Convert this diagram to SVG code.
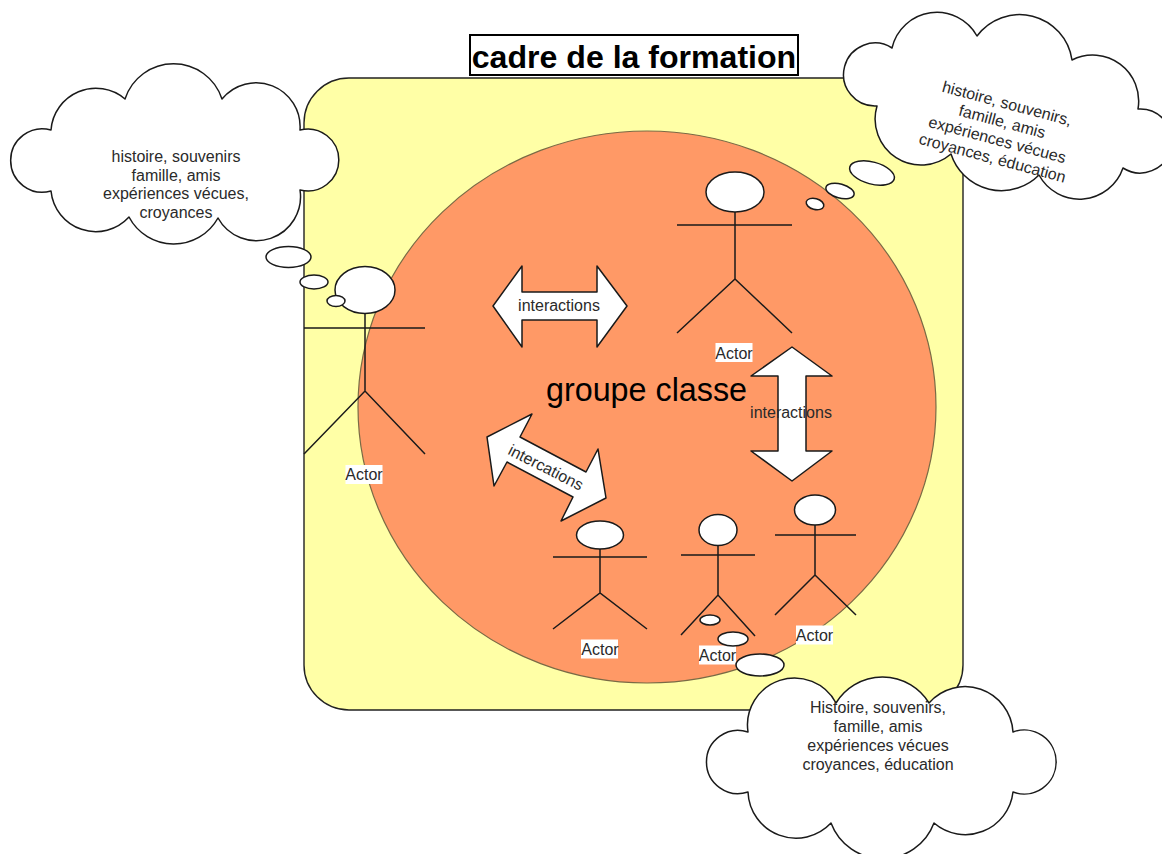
<svg xmlns="http://www.w3.org/2000/svg" width="1162" height="854" viewBox="0 0 1162 854">
<style>
text{font-family:"Liberation Sans",Arial,sans-serif;fill:#2a2a2a;font-size:16px;text-anchor:middle}
.big{font-size:32.300px;fill:#000}
.title{font-size:32.100px;font-weight:bold;fill:#000}
.s{fill:#fff;stroke:#1a1a1a;stroke-width:1.500;stroke-linejoin:round}
.l{fill:none;stroke:#1a1a1a;stroke-width:1.500;stroke-linecap:butt}
.lbl{fill:#fff}
</style>
<g id="cadre">
<rect x="304" y="78" width="659" height="632" rx="45" ry="45" fill="#ffffa6" stroke="#222" stroke-width="1.400"/>
</g>
<g id="groupe-classe">
<ellipse cx="647" cy="407" rx="289" ry="276" fill="#ff9966" stroke="#7a6a45" stroke-width="1.200"/>
<text class="big" x="646.500" y="401">groupe classe</text>
</g>
<g id="titre">
<rect x="470" y="35" width="328" height="40" fill="#fff" stroke="#000" stroke-width="2"/>
<text class="title" x="634" y="68">cadre de la formation</text>
</g>
<g id="actor-1">
<ellipse class="s" cx="365" cy="290" rx="30" ry="23.500"/>
<path class="l" d="M365 313.500V391M304 328H425M304 454L365 391L425 454"/>
<rect class="lbl" x="345.500" y="465" width="37" height="19"/>
<text x="364" y="479.500">Actor</text>
</g>
<g id="actor-2">
<ellipse class="s" cx="735" cy="192" rx="29" ry="20"/>
<path class="l" d="M735 212V279M677 225H792M677 333L735 279L792 333"/>
<rect class="lbl" x="715.500" y="343" width="37" height="19"/>
<text x="734" y="358.500">Actor</text>
</g>
<g id="actor-3">
<ellipse class="s" cx="600" cy="535" rx="23.500" ry="14"/>
<path class="l" d="M600 549V593M553 557H647M553 629L600 593L647 629"/>
<rect class="lbl" x="581" y="639.500" width="37" height="19"/>
<text x="600" y="654.500">Actor</text>
</g>
<g id="actor-4">
<ellipse class="s" cx="718" cy="530" rx="19" ry="15.500"/>
<path class="l" d="M718 545.500V595M681 635L718 595L755 636M681 555H755"/>
<rect class="lbl" x="699" y="645.500" width="37" height="19"/>
<text x="717.500" y="660.500">Actor</text>
</g>
<g id="actor-5">
<ellipse class="s" cx="815" cy="510" rx="20.500" ry="15"/>
<path class="l" d="M815 525V575M775 535H856M775 615L815 575L856 615"/>
<rect class="lbl" x="796" y="625.500" width="37" height="19"/>
<text x="814.500" y="640.500">Actor</text>
</g>
<g id="connectors">
<polygon class="s" points="493,306 522,266 522,292 597,292 597,266 627,306 597,347 597,320 522,320 522,347"/>
<text x="559" y="311">interactions</text>
<polygon class="s" points="792,347 832,376 806,376 806,451 832,451 792,481 751,451 778,451 778,376 751,376"/>
<text x="791" y="418">interactions</text>
<polygon class="s" points="487,437 532,414 520,437 586,472 598,449 606,498 561,521 573,497 507,462 494,486"/>
<text x="546" y="472.500" transform="rotate(27 545 467)">intercations</text>
</g>
<g id="pensee-gauche">
<path class="s" d="M51 130A31.700 31.700 0 1 0 51 191A45 45 0 0 0 129 217A50.600 50.600 0 0 0 218 218A44 44 0 0 0 300 190A31 31 0 1 0 300 130A44 44 0 0 0 222 99A51 51 0 0 0 125 99A45 45 0 0 0 51 130Z"/>
<ellipse class="s" cx="288.500" cy="257" rx="22.500" ry="10.500"/>
<ellipse class="s" cx="314" cy="282" rx="14" ry="7"/>
<ellipse class="s" cx="336" cy="301" rx="9" ry="5.500"/>
<text x="176" y="161.500">histoire, souvenirs</text>
<text x="176" y="180.500">famille, amis</text>
<text x="176" y="199">expériences vécues,</text>
<text x="176" y="218">croyances</text>
</g>
<g id="pensee-droite">
<path class="s" d="M892 48A46 46 0 0 1 977 36A53 53 0 0 1 1072 60A46 46 0 0 1 1138 109A32 32 0 1 1 1123 168A46 46 0 0 1 1039 175A53 53 0 0 1 951 154A46 46 0 0 1 877 106A31.500 31.500 0 1 1 892 48Z"/>
<ellipse class="s" cx="872" cy="173" rx="23" ry="11" transform="rotate(15 872 173)"/>
<ellipse class="s" cx="840" cy="191" rx="14.500" ry="7" transform="rotate(15 840 191)"/>
<ellipse class="s" cx="815" cy="204" rx="9" ry="5.500" transform="rotate(15 815 204)"/>
<g transform="rotate(15 1003 132)">
<text x="999.500" y="108.800">histoire, souvenirs,</text>
<text x="999.500" y="127.600">famille, amis</text>
<text x="999.500" y="146.400">expériences vécues</text>
<text x="999.500" y="165.200">croyances, éducation</text>
</g>
</g>
<g id="pensee-bas">
<ellipse class="s" cx="710" cy="620" rx="10" ry="5"/>
<ellipse class="s" cx="733" cy="639" rx="15" ry="7"/>
<ellipse class="s" cx="760" cy="665" rx="24" ry="11"/>
<path class="s" d="M748 732A31.600 31.600 0 1 0 748 792A48 48 0 0 0 831 823A55 55 0 0 0 934 823A48 48 0 0 0 1013 792A32 32 0 1 0 1013 732A48 48 0 0 0 929 703A54.600 54.600 0 0 0 836 703A47 47 0 0 0 748 732Z"/>
<text x="878" y="713">Histoire, souvenirs,</text>
<text x="878" y="732">famille, amis</text>
<text x="878" y="751">expériences vécues</text>
<text x="878" y="769.500">croyances, éducation</text>
</g>
</svg>
